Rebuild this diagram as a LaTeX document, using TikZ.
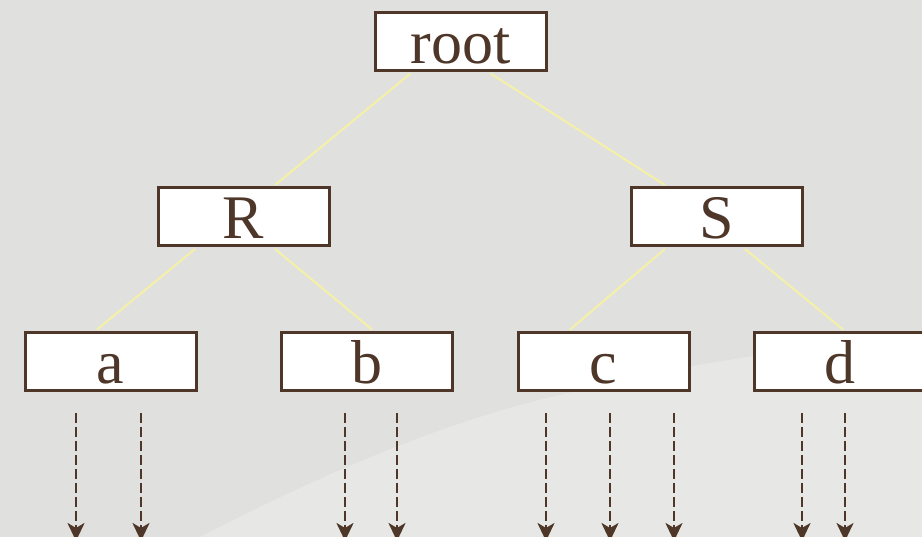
\documentclass[tikz,border=0pt]{standalone}
\usepackage{fontspec}
\setmainfont{Liberation Serif}
\usetikzlibrary{arrows.meta}
\definecolor{bg}{HTML}{E0E1DF}
\definecolor{bgtex}{HTML}{E7E8E6}
\definecolor{brown}{HTML}{4E3629}
\definecolor{edgey}{HTML}{F5F0A6}
\tikzset{
  box/.style={draw=brown, line width=3pt, fill=white, minimum width=171pt, inner sep=0pt, text height=51pt, text depth=7pt, text=brown, font=\fontsize{62}{62}\selectfont},
  link/.style={draw=edgey, line width=2pt},
  ptr/.style={draw=brown, line width=2.5pt, dash pattern=on 10pt off 4pt, -{Stealth[length=18pt,width=17pt,inset=5pt]}}
}
\begin{document}
\begin{tikzpicture}[x=1pt,y=-1pt]
\fill[bg] (0,0) rectangle (922,537);
\useasboundingbox (0,0) rectangle (922,537);
\fill[bgtex] (200,537) .. controls (330,470) and (450,420) .. (560,395)
  .. controls (680,365) and (800,345) .. (922,340) -- (922,537) -- cycle;
% nodes
\node[box] (root) at (460.5,41.5) {root};
\node[box] (R) at (243.5,217) {R};
\node[box] (S) at (716.5,217) {S};
\node[box] (a) at (110.5,361.5) {a};
\node[box] (b) at (366.5,361.5) {b};
\node[box] (c) at (603.5,361.5) {c};
\node[box] (d) at (839.5,361.5) {d};
% tree links
\draw[link] ([xshift=-50pt,yshift=-1.5pt]root.south) -- ([xshift=31.5pt,yshift=1.5pt]R.north);
\draw[link] ([xshift=30pt,yshift=-1.5pt]root.south) -- ([xshift=-51.5pt,yshift=1.5pt]S.north);
\draw[link] ([xshift=-48.5pt,yshift=-1.5pt]R.south) -- ([xshift=-13.5pt,yshift=1.5pt]a.north);
\draw[link] ([xshift=31.5pt,yshift=-1.5pt]R.south) -- ([xshift=5.5pt,yshift=1.5pt]b.north);
\draw[link] ([xshift=-51.5pt,yshift=-1.5pt]S.south) -- ([xshift=-33.5pt,yshift=1.5pt]c.north);
\draw[link] ([xshift=28.5pt,yshift=-1.5pt]S.south) -- ([xshift=3.5pt,yshift=1.5pt]d.north);
% pointer coordinates
\foreach \n/\x in {a1/76,a2/141,b1/345,b2/397,c1/546,c2/610,c3/674,d1/802,d2/845}{
  \coordinate (\n s) at (\x,413);
  \coordinate (\n e) at (\x,541);
}
\foreach \n in {a1,a2,b1,b2,c1,c2,c3,d1,d2}{
  \draw[ptr] (\n s) -- (\n e);
}
\end{tikzpicture}
\end{document}
